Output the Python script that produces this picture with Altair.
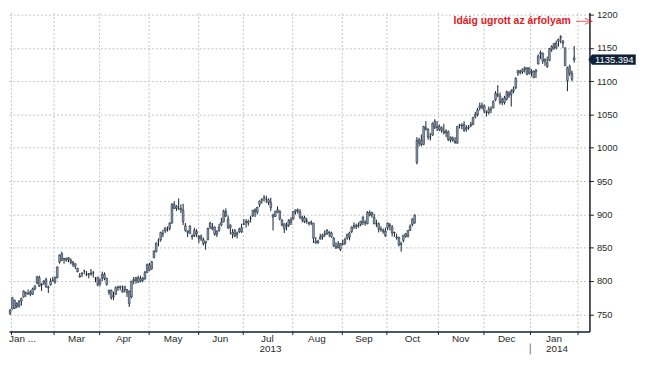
import altair as alt
import pandas as pd

# ---- daily OHLC (trading days, 31 Jan 2013 .. 30 Jan 2014) ----
opens = [751,
 758,771,762,762,770,776,782,781,780,780,788,797,805,794,797,802,791,794,801,
 798,805,828,841,834,834,832,831,828,826,819,806,812,815,810,811,812,812,803,806,
 796,804,810,804,786,786,776,780,790,792,786,787,787,784,776,802,805,798,804,804,803,813,
 824,818,835,844,860,862,871,875,877,879,887,915,912,908,909,906,876,875,882,866,868,874,
 867,867,862,857,862,881,881,881,870,876,884,889,904,893,884,873,876,872,874,874,
 885,888,887,894,898,907,903,915,921,925,923,922,918,899,897,907,905,891,878,884,884,892,
 893,904,906,904,896,895,890,888,888,887,860,860,863,866,870,871,872,872,864,852,850,856,
 855,857,864,872,874,883,881,884,885,896,888,886,903,899,896,886,886,878,874,868,
 880,884,881,873,866,866,856,861,867,866,876,885,887,978,1012,1011,1005,1030,1028,1016,1019,1040,1031,
 1032,1030,1025,1025,1024,1012,1014,1008,1007,1034,1033,1035,1028,1031,1033,1035,1047,1050,1060,1064,
 1063,1054,1053,1058,1060,1072,1080,1078,1068,1075,1073,1082,1080,1085,1090,1112,1115,1114,1120,1120,1112,
 1115,1115,1114,1126,1143,1142,1133,1128,1131,1152,1150,1157,1160,1167,1160,1150,1120,1122,1112,1132]
highs = [758,
 776,772,768,771,775,786,784,787,786,790,793,807,808,797,801,805,793,804,806,
 806,822,840,844,834,835,836,834,830,826,820,812,813,817,815,812,818,815,806,806,
 804,814,813,805,787,787,784,792,793,793,793,792,788,786,800,806,806,808,808,806,815,826,
 827,830,846,858,864,874,877,880,882,888,917,920,914,924,915,916,887,876,884,870,880,878,
 869,870,865,860,880,889,887,882,876,886,895,907,909,898,885,878,878,874,880,886,
 893,893,892,898,907,909,911,921,924,929,928,924,925,901,905,912,906,893,886,888,893,896,
 905,907,909,908,898,898,895,889,891,887,866,862,871,871,876,878,875,874,866,858,860,857,
 862,865,871,874,882,888,886,888,890,897,891,905,906,904,901,892,888,882,879,880,
 888,887,884,874,871,866,859,869,872,876,885,894,900,1016,1015,1020,1033,1040,1029,1022,1038,1043,1040,
 1035,1032,1036,1028,1026,1017,1017,1016,1033,1036,1037,1040,1034,1034,1039,1046,1054,1060,1068,1068,
 1065,1056,1062,1062,1071,1085,1094,1083,1075,1078,1086,1085,1088,1092,1106,1117,1117,1119,1122,1121,1121,
 1118,1116,1118,1140,1146,1143,1134,1137,1150,1154,1157,1161,1164,1169,1162,1151,1122,1125,1116,1153]
lows = [749,
 757,758,759,760,763,775,776,779,777,779,786,795,791,785,794,790,782,793,799,
 796,804,826,830,826,829,828,825,821,818,813,805,806,810,807,804,808,805,798,792,
 792,800,801,793,779,772,771,779,785,786,783,783,776,761,774,795,796,797,798,798,802,812,
 815,817,834,843,852,859,866,872,874,876,886,908,905,907,902,884,874,866,871,862,866,866,
 857,860,853,847,861,878,876,868,866,874,882,888,896,878,870,864,866,864,872,872,
 884,880,883,888,896,896,900,911,916,919,917,914,905,876,896,902,891,882,872,876,881,884,
 892,900,901,893,888,887,886,883,884,857,856,856,862,862,866,869,866,865,851,849,849,845,
 853,854,862,861,872,878,878,880,882,884,883,885,897,895,885,881,873,874,871,866,
 876,876,867,866,862,852,844,858,865,866,875,882,886,975,1002,1002,1004,1026,1012,1011,1018,1028,1025,
 1025,1023,1020,1016,1010,1008,1009,1006,1006,1029,1028,1024,1024,1027,1031,1034,1044,1047,1056,1058,
 1052,1047,1050,1052,1059,1070,1076,1065,1064,1065,1071,1075,1062,1082,1088,1108,1110,1111,1113,1109,1110,
 1107,1105,1105,1125,1133,1126,1123,1120,1130,1144,1147,1148,1152,1157,1150,1123,1085,1108,1100,1128]
closes = [756,
 775,759,766,770,774,785,782,781,783,788,793,807,792,795,800,791,790,800,801,
 806,821,839,831,833,831,835,828,825,822,814,808,811,815,810,810,810,812,803,794,
 801,810,804,795,783,775,778,790,790,790,783,792,783,766,800,800,801,805,800,801,813,825,
 816,829,845,857,860,873,871,880,877,887,915,909,909,908,907,889,883,873,871,868,876,871,
 864,863,856,860,879,887,878,870,875,881,888,905,898,880,880,870,867,870,878,880,
 886,889,890,894,906,904,911,920,923,925,923,918,910,896,905,903,893,884,886,882,891,888,
 904,907,905,896,892,889,890,886,887,864,857,857,866,869,871,876,873,866,853,849,856,847,
 856,862,870,866,881,882,883,883,890,888,887,903,899,903,886,886,878,877,876,875,
 887,883,872,872,865,854,855,869,871,876,882,893,899,1011,1007,1005,1032,1028,1016,1016,1037,1031,1031,
 1027,1026,1022,1023,1012,1016,1011,1010,1032,1034,1034,1026,1030,1030,1035,1046,1050,1057,1063,1060,
 1055,1053,1058,1058,1070,1082,1079,1068,1072,1068,1084,1078,1085,1088,1104,1116,1113,1118,1118,1110,1120,
 1113,1105,1117,1138,1141,1130,1130,1122,1149,1148,1157,1150,1163,1165,1157,1123,1101,1112,1103,1135.394]

# ---- axis / label content ----
month_names = ["Feb", "Mar", "Apr", "May", "Jun", "Jul", "Aug", "Sep", "Oct", "Nov", "Dec", "Jan"]
month_first_day = [1, 20, 40, 62, 84, 104, 126, 148, 168, 191, 211, 232, 253]
hidden_months = ["Feb"]
first_label = "Jan ..."
year_labels = ["2013", "2014"]
year_under_month = ["Jul", "Jan"]
y_ticks = [750, 800, 850, 900, 950, 1000, 1050, 1100, 1150, 1200]
last_label = "1135.394"
note_text = "Idáig ugrott az árfolyam"
note_level = 1190

W, H = 586, 322
X_MIN, X_MAX = -0.5, 257.8
Y_MIN, Y_MAX = 724, 1203
DARK = "#14202e"
BODY = "#8d9bb0"
RED = "#e3191c"
GRID = "#c4c4c4"
FONT = "Liberation Sans"
TAG_SHIFT = 2

df = pd.DataFrame({"i": list(range(len(closes))), "o": opens, "h": highs, "l": lows, "c": closes})

boundaries = [s - 0.5 for s in month_first_day]
mdf = pd.DataFrame({
    "name": month_names,
    "center": [(boundaries[k] + boundaries[k + 1]) / 2 for k in range(len(month_names))],
})
mdf_shown = mdf[~mdf["name"].isin(hidden_months)].reset_index(drop=True)

xs = alt.Scale(domain=[X_MIN, X_MAX], nice=False, zero=False, padding=0)
ys = alt.Scale(domain=[Y_MIN, Y_MAX], nice=False, zero=False, padding=0)

x_axis = alt.Axis(values=boundaries, labels=False, title=None, tickSize=3, tickColor=DARK,
                  domainColor=DARK, domainWidth=1.5, grid=True, gridDash=[2, 2],
                  gridColor=GRID, gridWidth=1)
y_axis = alt.Axis(orient="right", values=y_ticks, format="d", labelOverlap=False,
                  title=None, tickSize=4, tickColor=DARK, domainColor=DARK, domainWidth=1.5,
                  labelColor="#2a2a2a", labelFont=FONT, labelFontSize=9.5, labelPadding=3,
                  grid=True, gridDash=[2, 2], gridColor=GRID, gridWidth=1)


def X(field):
    return alt.X(field, scale=xs, axis=x_axis)


def Y(field):
    return alt.Y(field, scale=ys, axis=y_axis)


base = alt.Chart(df)
wick = base.mark_rule(color=DARK, strokeWidth=1).encode(
    x=X("i:Q"), y=Y("l:Q"), y2="h:Q",
)
body = base.mark_bar(size=1.8, fill=BODY, stroke=DARK, strokeWidth=0.5).encode(
    x=X("i:Q"), y=Y("o:Q"), y2="c:Q",
)

month_text = alt.Chart(mdf_shown).mark_text(
    baseline="middle", font=FONT, fontSize=10, color="#2a2a2a"
).encode(x=X("center:Q"), y=alt.value(H + 8), text="name:N")

first_df = pd.DataFrame({"pos": [X_MIN], "t": [first_label]})
first_text = alt.Chart(first_df).mark_text(
    align="left", baseline="middle", font=FONT, fontSize=10, color="#2a2a2a"
).encode(x=X("pos:Q"), y=alt.value(H + 8), text="t:N")

ydf = pd.DataFrame({
    "t": year_labels,
    "pos": [float(mdf.loc[mdf["name"] == m, "center"].iloc[-1]) for m in year_under_month],
})
year_text = alt.Chart(ydf).mark_text(
    align="left", baseline="middle", dx=-8, font=FONT, fontSize=10, color="#2a2a2a"
).encode(x=X("pos:Q"), y=alt.value(H + 18), text="t:N")

sep_df = pd.DataFrame({"pos": [boundaries[month_names.index("Jan")]]})
year_sep = alt.Chart(sep_df).mark_rule(color="#a0a0a0", strokeWidth=1.5).encode(
    x=X("pos:Q"), y=alt.value(H + 12), y2=alt.value(H + 23)
)

last_df = df.tail(1).assign(t=last_label)
tag = alt.Chart(last_df).mark_point(
    shape="M-1.1,0L-0.95,-0.22L1,-0.22L1,0.22L-0.95,0.22Z",
    filled=True, fill="#0f2238", stroke="#0f2238", strokeWidth=0.5, opacity=1, size=2025,
    yOffset=TAG_SHIFT,
).encode(x=alt.value(W + 24), y=Y("c:Q"))
tag_text = alt.Chart(last_df).mark_text(
    font=FONT, fontSize=9.5, color="white", baseline="middle", align="center", dy=TAG_SHIFT
).encode(x=alt.value(W + 25), y=Y("c:Q"), text="t:N")

note_df = pd.DataFrame({"x": [249.5], "x_start": [251.8], "x_end": [257.5],
                        "y": [note_level], "t": [note_text]})
note = alt.Chart(note_df).mark_text(
    align="right", baseline="middle", font=FONT, fontSize=10.5, fontWeight="bold", color=RED
).encode(x=X("x:Q"), y=Y("y:Q"), text="t:N")
shaft = alt.Chart(note_df).mark_rule(color=RED, strokeWidth=0.9, opacity=0.8).encode(
    x=X("x_start:Q"), x2="x_end:Q", y=Y("y:Q")
)
head = alt.Chart(note_df).mark_point(
    shape="M-1,-0.75L0.9,0L-1,0.75", filled=False, stroke=RED, strokeWidth=0.9,
    opacity=0.8, size=64,
).encode(x=X("x_end:Q"), y=Y("y:Q"))

chart = alt.layer(
    wick, body, month_text, first_text, year_text, year_sep, tag, tag_text, note, shaft, head
).properties(
    width=W, height=H, padding={"left": 0, "top": 0, "right": 0, "bottom": 0},
    background="white",
).configure_view(stroke=None).configure_axisY(labelOverlap=False)

chart.save("out.html", embed_options={"renderer": "svg", "actions": False})
